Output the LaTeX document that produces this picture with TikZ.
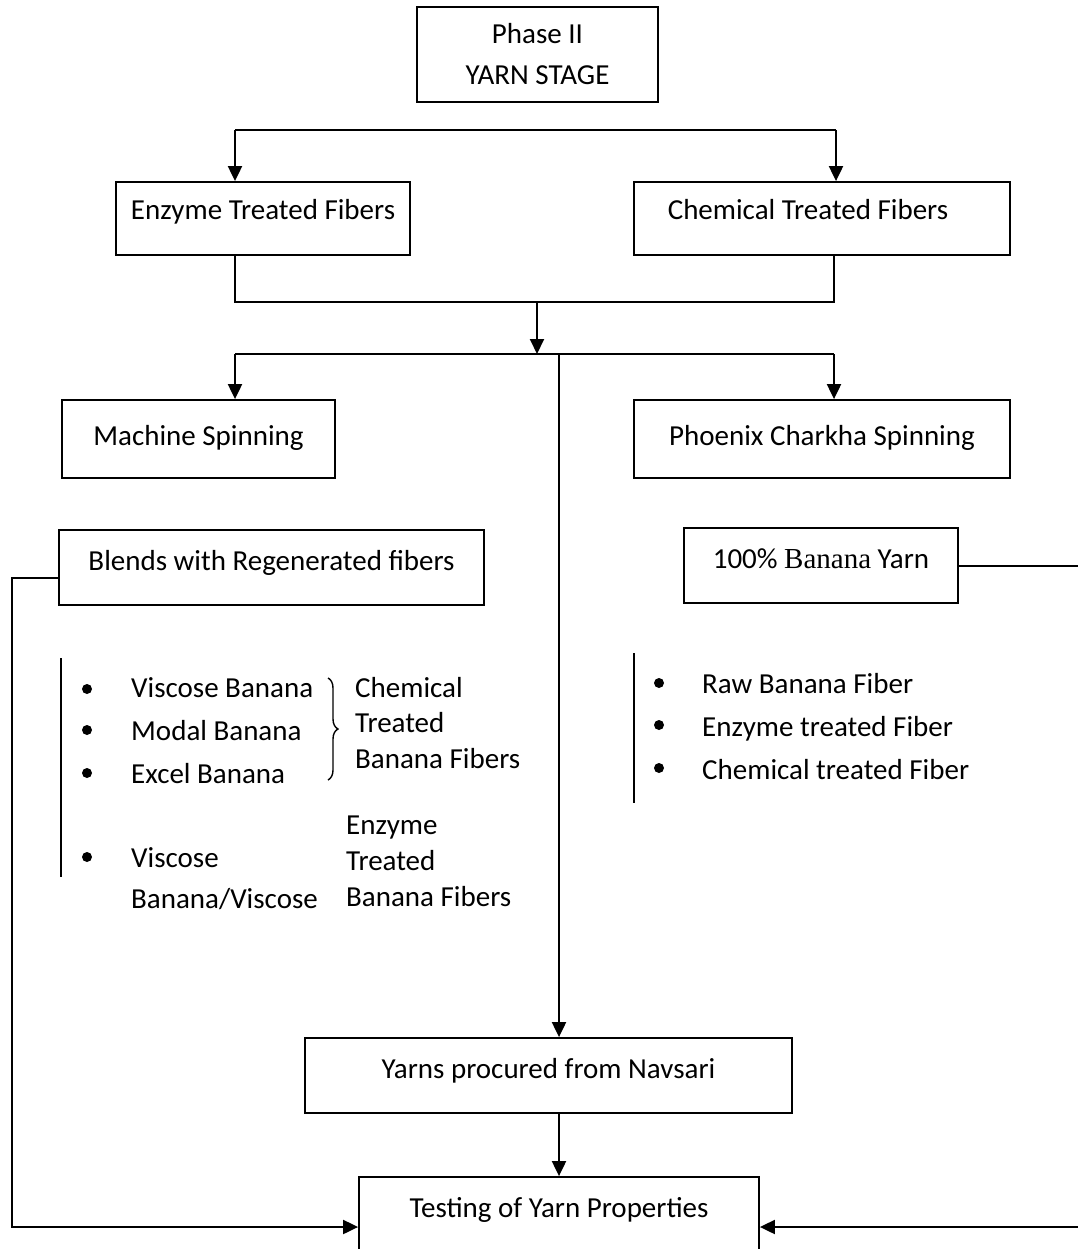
\documentclass[tikz,border=0pt]{standalone}
\usepackage{fontspec}
\setmainfont{Carlito}
\newfontfamily\serifb{Liberation Serif}
\usetikzlibrary{arrows.meta,decorations.pathreplacing}
\begin{document}
\begin{tikzpicture}[x=1pt,y=-1pt,
  every node/.style={font=\fontsize{29}{36}\selectfont},
  boxn/.style={draw,line width=1.8pt,inner sep=0pt,anchor=base},
  conn/.style={line width=2pt},
  arr/.style={line width=2pt,-{Triangle[length=15pt,width=14pt]}},
  bar/.style={line width=1.4pt},
  txt/.style={anchor=base west,inner sep=0pt},
  bul/.style={fill=black}]
\useasboundingbox (0,0) rectangle (1077,1249);
% boxes
\node[boxn,anchor=center,minimum width=241pt,minimum height=95pt,align=center,
  font=\fontsize{29}{41}\selectfont] (phase) at (537.5,54.5) {Phase II\\YARN STAGE};
\node[boxn,minimum width=294pt,text height=38pt,text depth=35pt] (enz) at (263,220) {Enzyme Treated Fibers};
\node[boxn,minimum width=376pt,text height=38pt,text depth=35pt] (chem) at (822,220) {Chemical Treated Fibers\hspace*{28pt}};
\node[boxn,minimum width=273pt,text height=45pt,text depth=33pt] (mach) at (198.5,445) {Machine Spinning};
\node[boxn,minimum width=376pt,text height=45pt,text depth=33pt] (phoe) at (822,445) {Phoenix Charkha Spinning};
\node[boxn,minimum width=425pt,text height=40pt,text depth=35pt] (blend) at (271.5,570) {Blends with Regenerated fibers};
\node[boxn,minimum width=274pt,text height=40pt,text depth=35pt] (hund) at (821,568) {100\% {\serifb Banana} Yarn};
\node[boxn,minimum width=487pt,text height=40pt,text depth=35pt] (nav) at (548.5,1078) {Yarns procured from Navsari};
\node[boxn,minimum width=400pt,text height=40pt,text depth=80pt] (test) at (559,1217) {Testing of Yarn Properties};
% connectors top
\coordinate (t1) at (235,130);
\coordinate (t2) at (836,130);
\draw[conn] (t1) -- (t2);
\draw[arr] (t1) -- (t1 |- enz.north);
\draw[arr] (t2) -- (t2 |- chem.north);
\coordinate (m1) at (235,302);
\coordinate (m2) at (834,302);
\coordinate (m3) at (537,302);
\draw[conn] (m1 |- enz.south) -- (m1) -- (m2) -- (m2 |- chem.south);
\coordinate (s1) at (235,354);
\coordinate (s2) at (834,354);
\coordinate (s3) at (559,354);
\draw[arr] (m3) -- (m3 |- s1);
\draw[conn] (s1) -- (s2);
\draw[arr] (s1) -- (s1 |- mach.north);
\draw[arr] (s2) -- (s2 |- phoe.north);
\draw[arr] (s3) -- (s3 |- nav.north);
\draw[arr] (nav.south -| s3) -- (test.north -| s3);
% side loops
\coordinate (l1) at (12,578);
\coordinate (l2) at (12,1227);
\draw[arr] (blend.west |- l1) -- (l1) -- (l2) -- (test.west |- l2);
\coordinate (r1) at (1081,566);
\coordinate (r2) at (1081,1227);
\draw[arr] (hund.east |- r1) -- (r1) -- (r2) -- (test.east |- r2);
% left list
\draw[bar] (61,658) -- (61,877);
\fill[bul] (87,689) circle (5);
\fill[bul] (87,730) circle (5);
\fill[bul] (87,773) circle (5);
\fill[bul] (87,857) circle (5);
\node[txt] (v1) at (131,697) {Viscose Banana};
\node[txt] (v2) at (131,740) {Modal Banana};
\node[txt] (v3) at (131,783) {Excel Banana};
\node[txt] (v4) at (131,867) {Viscose};
\node[txt] (v5) at (131,908) {Banana/Viscose};
\draw[line width=1.4pt,decorate,decoration={brace,amplitude=10pt}] (328,678) -- (328,780);
\node[txt] (c1) at (355,697) {Chemical};
\node[txt] (c2) at (355,732) {Treated};
\node[txt] (c3) at (355,768) {Banana Fibers};
\node[txt] (e1) at (346,834) {Enzyme};
\node[txt] (e2) at (346,870) {Treated};
\node[txt] (e3) at (346,906) {Banana Fibers};
% right list
\draw[bar] (634,653) -- (634,803);
\fill[bul] (659,683) circle (5);
\fill[bul] (659,725) circle (5);
\fill[bul] (659,768) circle (5);
\node[txt] (w1) at (702,693) {Raw Banana Fiber};
\node[txt] (w2) at (702,736) {Enzyme treated Fiber};
\node[txt] (w3) at (702,779) {Chemical treated Fiber};
\end{tikzpicture}
\end{document}
